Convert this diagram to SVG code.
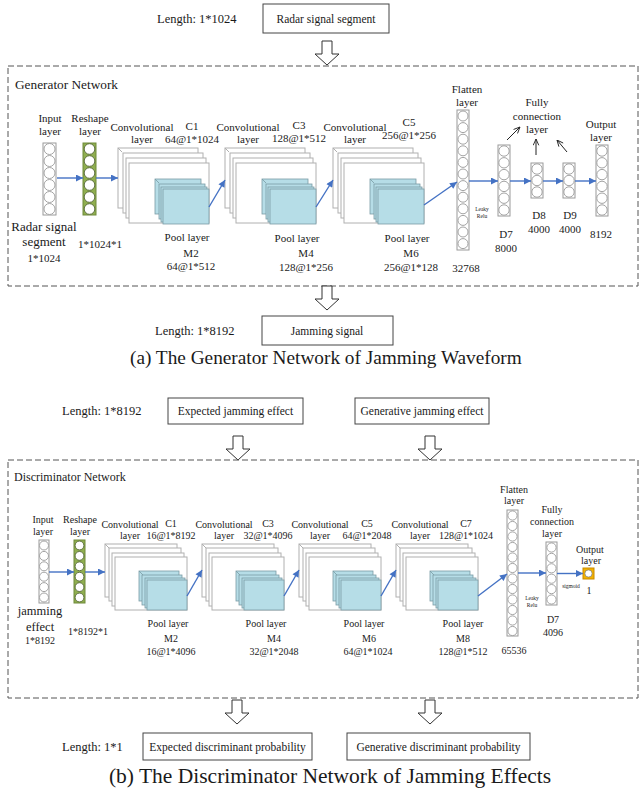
<svg xmlns="http://www.w3.org/2000/svg" width="644" height="790" viewBox="0 0 644 790">
<style>
text{font-family:"Liberation Serif","Times New Roman",serif;fill:#1a1a1a}
.m{text-anchor:middle}
.s11{font-size:11px}
.s10{font-size:10px}
.s6{font-size:5.5px}
.col{fill:#fff;stroke:#9a9a9a;stroke-width:1}
.cir{fill:#fff;stroke:#9a9a9a;stroke-width:0.9}
.grn{fill:#8fae4f;stroke:#6f8a3a;stroke-width:1}
.gcir{fill:#fff;stroke:#56683a;stroke-width:0.9}
.conv{fill:#fff;stroke:#b0b0b0;stroke-width:1}
.pool{fill:#b6dde7;stroke:#7a9ca5;stroke-width:0.8}
.arr{stroke:#4472c4;stroke-width:1.4;fill:none;marker-end:url(#ab)}
.karr{stroke:#222;stroke-width:1;fill:none;marker-end:url(#ak)}
.dash{fill:none;stroke:#555;stroke-width:1;stroke-dasharray:6 3}
.box{fill:#fff;stroke:#444;stroke-width:1}
.hol{fill:#fff;stroke:#333;stroke-width:1}
</style>
<defs>
<marker id="ab" viewBox="0 0 10 10" refX="10" refY="5" markerWidth="9" markerHeight="7" markerUnits="userSpaceOnUse" orient="auto"><path d="M0,0 L10,5 L0,10 z" fill="#4472c4"/></marker>
<marker id="ak" viewBox="0 0 10 10" refX="10" refY="5" markerWidth="7" markerHeight="7" markerUnits="userSpaceOnUse" orient="auto"><path d="M1,1 L10,5 L1,9" fill="none" stroke="#222" stroke-width="1.3"/></marker>
</defs>

<!-- ===== Generator ===== -->
<g id="gen-input-top">
<text x="157" y="23" style="font-size:12.5px">Length: 1*1024</text>
<rect class="box" x="263" y="4" width="126" height="29"/>
<text class="m" x="326" y="23" style="font-size:11.5px">Radar signal segment</text>
</g>
<g id="gen-arrow-in"><polygon class="hol" points="322,41 332,41 332,54 339,54 327,65 315,54 322,54"/></g>
<g id="gen-frame">
<rect class="dash" x="8" y="66" width="630" height="220"/>
<text x="15" y="89" style="font-size:13.3px">Generator Network</text>
</g>

<g id="g-input">
<text class="m s11" x="50" y="122">Input</text><text class="m s11" x="50" y="135">layer</text>
<rect class="col" x="43" y="143" width="13" height="72"/>
<circle class="cir" cx="49.5" cy="149" r="5.5"/><circle class="cir" cx="49.5" cy="161" r="5.5"/><circle class="cir" cx="49.5" cy="173" r="5.5"/><circle class="cir" cx="49.5" cy="185" r="5.5"/><circle class="cir" cx="49.5" cy="197" r="5.5"/><circle class="cir" cx="49.5" cy="209" r="5.5"/>
<text class="m" x="44" y="231" style="font-size:13px">Radar signal</text>
<text class="m" x="44" y="246" style="font-size:13px">segment</text>
<text class="m s11" x="44" y="262">1*1024</text>
</g>
<g id="g-reshape">
<text class="m s11" x="90" y="122">Reshape</text><text class="m s11" x="90" y="135">layer</text>
<rect class="grn" x="83" y="143" width="13" height="72"/>
<circle class="gcir" cx="89.5" cy="149" r="5.3"/><circle class="gcir" cx="89.5" cy="161" r="5.3"/><circle class="gcir" cx="89.5" cy="173" r="5.3"/><circle class="gcir" cx="89.5" cy="185" r="5.3"/><circle class="gcir" cx="89.5" cy="197" r="5.3"/><circle class="gcir" cx="89.5" cy="209" r="5.3"/>
<text class="m s11" x="100" y="248">1*1024*1</text>
</g>

<g id="g-block1">
<rect class="conv" x="118" y="148" width="80" height="60"/><line x1="118" y1="148" x2="122" y2="152" stroke="#b0b0b0"/>
<rect class="conv" x="123" y="153" width="80" height="60"/>
<rect class="conv" x="126" y="158" width="80" height="60"/>
<rect class="conv" x="129" y="163" width="80" height="60"/>
<rect class="pool" x="155" y="179" width="46" height="35"/><line x1="155" y1="179" x2="159" y2="183" stroke="#7a9ca5" stroke-width="0.8"/>
<rect class="pool" x="159" y="184" width="46" height="35"/>
<rect class="pool" x="161" y="187" width="46" height="35"/>
<rect class="pool" x="163" y="189" width="46" height="35"/>
<text class="m s11" x="142" y="131">Convolutional</text><text class="m s11" x="142" y="143">layer</text>
<text class="m s11" x="192" y="130">C1</text><text class="m s11" x="192" y="143">64@1*1024</text>
<text class="m s11" x="187" y="241">Pool layer</text><text class="m s11" x="191" y="257">M2</text><text class="m s11" x="191" y="270">64@1*512</text>
</g>
<g id="g-block2">
<rect class="conv" x="225" y="148" width="80" height="60"/><line x1="225" y1="148" x2="229" y2="152" stroke="#b0b0b0"/>
<rect class="conv" x="230" y="153" width="80" height="60"/>
<rect class="conv" x="233" y="158" width="80" height="60"/>
<rect class="conv" x="236" y="163" width="80" height="60"/>
<rect class="pool" x="262" y="179" width="46" height="35"/><line x1="262" y1="179" x2="266" y2="183" stroke="#7a9ca5" stroke-width="0.8"/>
<rect class="pool" x="266" y="184" width="46" height="35"/>
<rect class="pool" x="268" y="187" width="46" height="35"/>
<rect class="pool" x="270" y="189" width="46" height="35"/>
<text class="m s11" x="248" y="131">Convolutional</text><text class="m s11" x="248" y="143">layer</text>
<text class="m s11" x="299" y="129">C3</text><text class="m s11" x="299" y="142">128@1*512</text>
<text class="m s11" x="297" y="242">Pool layer</text><text class="m s11" x="306" y="257">M4</text><text class="m s11" x="306" y="271">128@1*256</text>
</g>
<g id="g-block3">
<rect class="conv" x="333" y="148" width="80" height="60"/><line x1="333" y1="148" x2="337" y2="152" stroke="#b0b0b0"/>
<rect class="conv" x="338" y="153" width="80" height="60"/>
<rect class="conv" x="341" y="158" width="80" height="60"/>
<rect class="conv" x="344" y="163" width="80" height="60"/>
<rect class="pool" x="370" y="179" width="46" height="35"/><line x1="370" y1="179" x2="374" y2="183" stroke="#7a9ca5" stroke-width="0.8"/>
<rect class="pool" x="374" y="184" width="46" height="35"/>
<rect class="pool" x="376" y="187" width="46" height="35"/>
<rect class="pool" x="378" y="189" width="46" height="35"/>
<text class="m s11" x="355" y="131">Convolutional</text><text class="m s11" x="355" y="143">layer</text>
<text class="m s11" x="409" y="126">C5</text><text class="m s11" x="409" y="139">256@1*256</text>
<text class="m s11" x="407" y="242">Pool layer</text><text class="m s11" x="411" y="257">M6</text><text class="m s11" x="411" y="271">256@1*128</text>
</g>

<g id="g-flatten">
<text class="m s11" x="467" y="93">Flatten</text><text class="m s11" x="467" y="106">layer</text>
<rect class="col" x="457" y="110" width="12" height="140"/>
<circle class="cir" cx="463" cy="116" r="5"/><circle class="cir" cx="463" cy="127.6" r="5"/><circle class="cir" cx="463" cy="139.2" r="5"/><circle class="cir" cx="463" cy="150.8" r="5"/><circle class="cir" cx="463" cy="162.4" r="5"/><circle class="cir" cx="463" cy="174" r="5"/><circle class="cir" cx="463" cy="185.6" r="5"/><circle class="cir" cx="463" cy="197.2" r="5"/><circle class="cir" cx="463" cy="208.8" r="5"/><circle class="cir" cx="463" cy="220.4" r="5"/><circle class="cir" cx="463" cy="232" r="5"/><circle class="cir" cx="463" cy="243.6" r="5"/>
<text class="m s11" x="466" y="272">32768</text>
<text class="m s6" x="482" y="211">Leaky</text><text class="m s6" x="482" y="218">Relu</text>
</g>
<g id="g-d7">
<rect class="col" x="498" y="145" width="12" height="71"/>
<circle class="cir" cx="504" cy="151" r="5.2"/><circle class="cir" cx="504" cy="162.8" r="5.2"/><circle class="cir" cx="504" cy="174.6" r="5.2"/><circle class="cir" cx="504" cy="186.4" r="5.2"/><circle class="cir" cx="504" cy="198.2" r="5.2"/><circle class="cir" cx="504" cy="210" r="5.2"/>
<text class="m s11" x="506" y="238">D7</text><text class="m s11" x="506" y="252">8000</text>
</g>
<g id="g-d8">
<rect class="col" x="531" y="163" width="12" height="35"/>
<circle class="cir" cx="537" cy="169" r="5.2"/><circle class="cir" cx="537" cy="180.5" r="5.2"/><circle class="cir" cx="537" cy="192" r="5.2"/>
<text class="m s11" x="539" y="219">D8</text><text class="m s11" x="539" y="233">4000</text>
</g>
<g id="g-d9">
<rect class="col" x="563" y="163" width="12" height="35"/>
<circle class="cir" cx="569" cy="169" r="5.2"/><circle class="cir" cx="569" cy="180.5" r="5.2"/><circle class="cir" cx="569" cy="192" r="5.2"/>
<text class="m s11" x="570" y="219">D9</text><text class="m s11" x="570" y="233">4000</text>
</g>
<g id="g-fc-label">
<text class="m s11" x="537" y="106">Fully</text><text class="m s11" x="537" y="120">connection</text><text class="m s11" x="537" y="133">layer</text>
</g>
<g id="g-output">
<text class="m s11" x="601" y="128">Output</text><text class="m s11" x="601" y="141">layer</text>
<rect class="col" x="596" y="145" width="12" height="71"/>
<circle class="cir" cx="602" cy="151" r="5.2"/><circle class="cir" cx="602" cy="162.8" r="5.2"/><circle class="cir" cx="602" cy="174.6" r="5.2"/><circle class="cir" cx="602" cy="186.4" r="5.2"/><circle class="cir" cx="602" cy="198.2" r="5.2"/><circle class="cir" cx="602" cy="210" r="5.2"/>
<text class="m s11" x="601" y="238">8192</text>
</g>

<g id="gen-connectors">
<line class="arr" x1="57" y1="178" x2="83" y2="178"/>
<line class="arr" x1="96" y1="178" x2="118" y2="178"/>
<line class="arr" x1="209" y1="207" x2="225" y2="180"/>
<line class="arr" x1="316" y1="207" x2="333" y2="180"/>
<line class="arr" x1="424" y1="205" x2="457" y2="182"/>
<line class="arr" x1="469" y1="181" x2="498" y2="181"/>
<line class="arr" x1="510" y1="181" x2="531" y2="181"/>
<line class="arr" x1="543" y1="181" x2="563" y2="181"/>
<line class="arr" x1="575" y1="181" x2="596" y2="181"/>
<line class="karr" x1="507" y1="140" x2="520" y2="127"/>
<line class="karr" x1="536" y1="155" x2="536" y2="139"/>
<line class="karr" x1="567" y1="152" x2="557" y2="140"/>
</g>

<g id="gen-arrow-out"><polygon class="hol" points="322,286 332,286 332,299 339,299 327,310 315,299 322,299"/></g>
<g id="gen-output">
<text x="155" y="335" style="font-size:12.5px">Length: 1*8192</text>
<rect class="box" x="262" y="316" width="131" height="29"/>
<text class="m" x="327" y="335" style="font-size:11.5px">Jamming signal</text>
</g>
<text x="130" y="364" style="font-size:19.3px">(a) The Generator Network of Jamming Waveform</text>

<!-- ===== Discriminator ===== -->
<g id="disc-inputs">
<text x="62" y="415" style="font-size:12.5px">Length: 1*8192</text>
<rect class="box" x="168" y="398" width="135" height="26"/>
<text class="m" x="235.5" y="415" style="font-size:11.5px">Expected jamming effect</text>
<rect class="box" x="355" y="398" width="134" height="26"/>
<text class="m" x="422" y="415" style="font-size:11.5px">Generative jamming effect</text>
</g>
<g id="disc-arrows-in">
<polygon class="hol" points="233,436 243,436 243,449 250,449 238,460 226,449 233,449"/>
<polygon class="hol" points="425,436 435,436 435,449 442,449 430,460 418,449 425,449"/>
</g>
<g id="disc-frame">
<rect class="dash" x="8" y="460" width="630" height="238"/>
<text x="14" y="481" style="font-size:12px">Discriminator Network</text>
</g>

<g id="d-input">
<text class="m s10" x="43" y="523">Input</text><text class="m s10" x="43" y="535">layer</text>
<rect class="col" x="39" y="540" width="10" height="63"/>
<circle class="cir" cx="44" cy="545.5" r="4.5"/><circle class="cir" cx="44" cy="555.9" r="4.5"/><circle class="cir" cx="44" cy="566.3" r="4.5"/><circle class="cir" cx="44" cy="576.7" r="4.5"/><circle class="cir" cx="44" cy="587.1" r="4.5"/><circle class="cir" cx="44" cy="597.5" r="4.5"/>
<text class="m" x="40" y="615" style="font-size:12.5px">jamming</text>
<text class="m" x="40" y="631" style="font-size:12.5px">effect</text>
<text class="m s10" x="40" y="644">1*8192</text>
</g>
<g id="d-reshape">
<text class="m s10" x="80" y="523">Reshape</text><text class="m s10" x="80" y="535">layer</text>
<rect class="grn" x="74" y="540" width="11" height="63"/>
<circle class="gcir" cx="79.5" cy="545.5" r="4.4"/><circle class="gcir" cx="79.5" cy="555.9" r="4.4"/><circle class="gcir" cx="79.5" cy="566.3" r="4.4"/><circle class="gcir" cx="79.5" cy="576.7" r="4.4"/><circle class="gcir" cx="79.5" cy="587.1" r="4.4"/><circle class="gcir" cx="79.5" cy="597.5" r="4.4"/>
<text class="m s10" x="88" y="635">1*8192*1</text>
</g>

<g id="d-block1">
<rect class="conv" x="105" y="544" width="72" height="53"/><line x1="105" y1="544" x2="109" y2="548" stroke="#b0b0b0"/>
<rect class="conv" x="109" y="548" width="72" height="53"/>
<rect class="conv" x="112" y="553" width="72" height="53"/>
<rect class="conv" x="115" y="557" width="72" height="53"/>
<rect class="pool" x="139" y="571" width="40" height="30"/><line x1="139" y1="571" x2="143" y2="575" stroke="#7a9ca5" stroke-width="0.8"/>
<rect class="pool" x="142" y="575" width="40" height="30"/>
<rect class="pool" x="145" y="578" width="40" height="30"/>
<rect class="pool" x="147" y="580" width="40" height="30"/>
<text class="m s10" x="130" y="528">Convolutional</text><text class="m s10" x="130" y="539">layer</text>
<text class="m s10" x="171" y="527">C1</text><text class="m s10" x="171" y="539">16@1*8192</text>
<text class="m s10" x="168" y="627">Pool layer</text><text class="m s10" x="171" y="642">M2</text><text class="m s10" x="171" y="655">16@1*4096</text>
</g>
<g id="d-block2">
<rect class="conv" x="202" y="544" width="72" height="53"/><line x1="202" y1="544" x2="206" y2="548" stroke="#b0b0b0"/>
<rect class="conv" x="206" y="548" width="72" height="53"/>
<rect class="conv" x="209" y="553" width="72" height="53"/>
<rect class="conv" x="212" y="557" width="72" height="53"/>
<rect class="pool" x="236" y="571" width="40" height="30"/><line x1="236" y1="571" x2="240" y2="575" stroke="#7a9ca5" stroke-width="0.8"/>
<rect class="pool" x="239" y="575" width="40" height="30"/>
<rect class="pool" x="242" y="578" width="40" height="30"/>
<rect class="pool" x="244" y="580" width="40" height="30"/>
<text class="m s10" x="224" y="528">Convolutional</text><text class="m s10" x="224" y="539">layer</text>
<text class="m s10" x="268" y="527">C3</text><text class="m s10" x="268" y="539">32@1*4096</text>
<text class="m s10" x="266" y="627">Pool layer</text><text class="m s10" x="274" y="642">M4</text><text class="m s10" x="274" y="655">32@1*2048</text>
</g>
<g id="d-block3">
<rect class="conv" x="299" y="544" width="72" height="53"/><line x1="299" y1="544" x2="303" y2="548" stroke="#b0b0b0"/>
<rect class="conv" x="303" y="548" width="72" height="53"/>
<rect class="conv" x="306" y="553" width="72" height="53"/>
<rect class="conv" x="309" y="557" width="72" height="53"/>
<rect class="pool" x="333" y="571" width="40" height="30"/><line x1="333" y1="571" x2="337" y2="575" stroke="#7a9ca5" stroke-width="0.8"/>
<rect class="pool" x="336" y="575" width="40" height="30"/>
<rect class="pool" x="339" y="578" width="40" height="30"/>
<rect class="pool" x="341" y="580" width="40" height="30"/>
<text class="m s10" x="320" y="528">Convolutional</text><text class="m s10" x="320" y="539">layer</text>
<text class="m s10" x="367" y="527">C5</text><text class="m s10" x="367" y="539">64@1*2048</text>
<text class="m s10" x="364" y="627">Pool layer</text><text class="m s10" x="369" y="642">M6</text><text class="m s10" x="368" y="655">64@1*1024</text>
</g>
<g id="d-block4">
<rect class="conv" x="396" y="544" width="72" height="53"/><line x1="396" y1="544" x2="400" y2="548" stroke="#b0b0b0"/>
<rect class="conv" x="400" y="548" width="72" height="53"/>
<rect class="conv" x="403" y="553" width="72" height="53"/>
<rect class="conv" x="406" y="557" width="72" height="53"/>
<rect class="pool" x="430" y="571" width="40" height="30"/><line x1="430" y1="571" x2="434" y2="575" stroke="#7a9ca5" stroke-width="0.8"/>
<rect class="pool" x="433" y="575" width="40" height="30"/>
<rect class="pool" x="436" y="578" width="40" height="30"/>
<rect class="pool" x="438" y="580" width="40" height="30"/>
<text class="m s10" x="420" y="528">Convolutional</text><text class="m s10" x="420" y="539">layer</text>
<text class="m s10" x="466" y="527">C7</text><text class="m s10" x="466" y="539">128@1*1024</text>
<text class="m s10" x="463" y="627">Pool layer</text><text class="m s10" x="463" y="642">M8</text><text class="m s10" x="463" y="655">128@1*512</text>
</g>

<g id="d-flatten">
<text class="m s10" x="514" y="493">Flatten</text><text class="m s10" x="514" y="504">layer</text>
<rect class="col" x="507" y="510" width="11" height="126"/>
<circle class="cir" cx="512.5" cy="515.5" r="4.6"/><circle class="cir" cx="512.5" cy="526" r="4.6"/><circle class="cir" cx="512.5" cy="536.5" r="4.6"/><circle class="cir" cx="512.5" cy="547" r="4.6"/><circle class="cir" cx="512.5" cy="557.5" r="4.6"/><circle class="cir" cx="512.5" cy="568" r="4.6"/><circle class="cir" cx="512.5" cy="578.5" r="4.6"/><circle class="cir" cx="512.5" cy="589" r="4.6"/><circle class="cir" cx="512.5" cy="599.5" r="4.6"/><circle class="cir" cx="512.5" cy="610" r="4.6"/><circle class="cir" cx="512.5" cy="620.5" r="4.6"/><circle class="cir" cx="512.5" cy="631" r="4.6"/>
<text class="m s10" x="514" y="654">65536</text>
<text class="m s6" x="532" y="600">Leaky</text><text class="m s6" x="532" y="607">Relu</text>
</g>
<g id="d-d7">
<text class="m s10" x="552" y="513">Fully</text><text class="m s10" x="552" y="525">connection</text><text class="m s10" x="552" y="537">layer</text>
<rect class="col" x="546" y="542" width="11" height="63"/>
<circle class="cir" cx="551.5" cy="547.5" r="4.6"/><circle class="cir" cx="551.5" cy="557.9" r="4.6"/><circle class="cir" cx="551.5" cy="568.3" r="4.6"/><circle class="cir" cx="551.5" cy="578.7" r="4.6"/><circle class="cir" cx="551.5" cy="589.1" r="4.6"/><circle class="cir" cx="551.5" cy="599.5" r="4.6"/>
<text class="m s10" x="553" y="623">D7</text><text class="m s10" x="553" y="636">4096</text>
</g>
<g id="d-output">
<text class="m s10" x="590" y="553">Output</text><text class="m s10" x="591" y="564">layer</text>
<rect x="583" y="568" width="11" height="11" fill="#f2b100" stroke="#c98a00" stroke-width="1"/>
<circle cx="588.5" cy="573.5" r="3.6" fill="#fff" stroke="#777" stroke-width="0.7"/>
<text class="m s6" x="571" y="588">sigmoid</text>
<text class="m s10" x="589" y="594">1</text>
</g>

<g id="disc-connectors">
<line class="arr" x1="49" y1="572" x2="74" y2="572"/>
<line class="arr" x1="85" y1="572" x2="105" y2="572"/>
<line class="arr" x1="187" y1="596" x2="202" y2="570"/>
<line class="arr" x1="284" y1="596" x2="299" y2="570"/>
<line class="arr" x1="381" y1="596" x2="396" y2="570"/>
<line class="arr" x1="478" y1="596" x2="507" y2="574"/>
<line class="arr" x1="518" y1="573" x2="546" y2="573"/>
<line class="arr" x1="557" y1="573.5" x2="583" y2="573.5"/>
</g>

<g id="disc-arrows-out">
<polygon class="hol" points="232,700 242,700 242,713 249,713 237,724 225,713 232,713"/>
<polygon class="hol" points="425,700 435,700 435,713 442,713 430,724 418,713 425,713"/>
</g>
<g id="disc-outputs">
<text x="62" y="751" style="font-size:12.5px">Length: 1*1</text>
<rect class="box" x="143" y="733" width="169" height="27"/>
<text class="m" x="227.5" y="751" style="font-size:11.5px">Expected discriminant probability</text>
<rect class="box" x="347" y="733" width="183" height="27"/>
<text class="m" x="438.5" y="751" style="font-size:11.5px">Generative discriminant probability</text>
</g>
<text class="m" x="330" y="783" style="font-size:21.5px">(b) The Discriminator Network of Jamming Effects</text>
</svg>
